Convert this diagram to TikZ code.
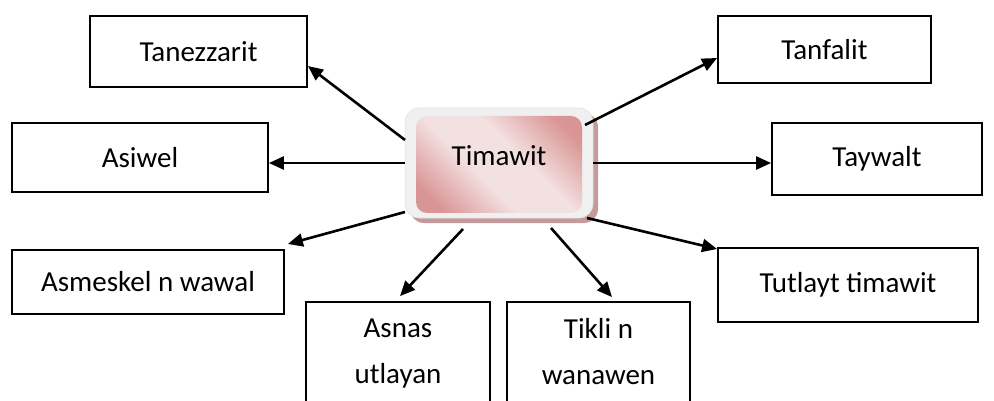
\documentclass[tikz,border=0pt]{standalone}
\usepackage{fontspec}
\setmainfont{Carlito}
\usetikzlibrary{arrows.meta,calc}
\definecolor{pinkdark}{HTML}{D99594}
\definecolor{pinklight}{HTML}{F3E0E0}
\definecolor{framegray}{HTML}{F0F0F0}
\definecolor{shadowc}{HTML}{C49A9A}
\pgfdeclarehorizontalshading{pinkband}{100bp}{color(0bp)=(pinkdark); color(22bp)=(pinkdark); color(42bp)=(pinklight); color(58bp)=(pinklight); color(78bp)=(pinkdark); color(100bp)=(pinkdark)}
\tikzset{
  box/.style={draw=black, line width=1.8pt, fill=white, inner sep=0pt, align=center},
  conn/.style={line width=2.6pt, -{Triangle[length=15pt,width=13pt]}},
  lbl/.style={font=\fontsize{29}{46}\selectfont}
}
\begin{document}
\begin{tikzpicture}[x=1pt,y=-1pt]
\useasboundingbox (0,0) rectangle (994,401);
\clip (0,0) rectangle (994,401);
% boxes
\node[box,lbl,minimum width=217pt,minimum height=71pt] (tz) at (198.5,51.5) {Tanezzarit};
\node[box,lbl,minimum width=213pt,minimum height=67pt] (tf) at (824.5,49.5) {Tanfalit};
\node[box,lbl,minimum width=256pt,minimum height=69pt] (as) at (140,157.5) {Asiwel};
\node[box,lbl,minimum width=210pt,minimum height=72pt] (ty) at (877,159) {Taywalt};
\node[box,lbl,minimum width=272pt,minimum height=64pt] (am) at (148,282) {Asmeskel n wawal};
\node[box,lbl,minimum width=260pt,minimum height=74pt] (tt) at (848,285) {Tutlayt timawit};
\node[box,minimum width=184pt,minimum height=130pt] (an) at (398,367) {};
\node[box,minimum width=183pt,minimum height=130pt] (tk) at (598.5,367) {};
\node[lbl,align=center,anchor=north] (ant) at ($(an.north)+(0,14)$) {Asnas\\utlayan};
\node[lbl,align=center,anchor=north] (tkt) at ($(tk.north)+(0,14)$) {Tikli n\\wanawen};
% central node
\fill[shadowc,rounded corners=14pt] (410,113) rectangle (598,223);
\node[draw=black!12,line width=0.5pt,fill=framegray,rounded corners=14pt,minimum width=188pt,minimum height=110pt] (tim) at (499,163) {};
\shade[rounded corners=11pt, shading=pinkband, shading angle=45] (416,116) rectangle (582,213);
\node[lbl] (timt) at (499,156) {Timawit};
% connectors
\coordinate (s1) at (405,140);
\coordinate (s2) at (585,125);
\coordinate (s3) at (405,163);
\coordinate (s4) at (593,163);
\coordinate (s5) at (405,212);
\coordinate (s6) at (587,218);
\coordinate (s7) at (463,229);
\coordinate (s8) at (551,228);
\draw[conn] (s1) -- ($(tz.east)+(0,14.5)$);
\draw[conn] (s2) -- ($(tf.west)+(0,8.5)$);
\draw[conn] (s3) -- ($(as.east)+(0,5.5)$);
\draw[conn] (s4) -- ($(ty.west)+(0,4)$);
\draw[conn] (s5) -- ($(am.east)+(3,-38)$);
\draw[conn] (s6) -- ($(tt.west)+(0,-36)$);
\draw[conn] (s7) -- ($(an.north)+(2,-5)$);
\draw[conn] (s8) -- ($(tk.north)+(13.5,-4)$);
\end{tikzpicture}
\end{document}
